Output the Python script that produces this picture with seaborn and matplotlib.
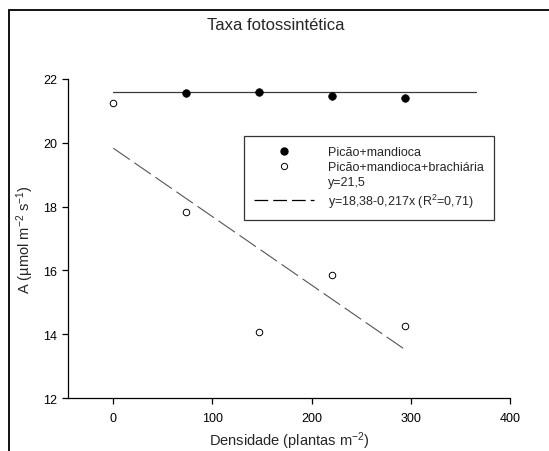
import numpy as np
import pandas as pd
import matplotlib
matplotlib.use("Agg")
import matplotlib.pyplot as plt
from matplotlib.lines import Line2D
from matplotlib.patches import Rectangle
import seaborn as sns

# data
dens = [0, 73.5, 147, 220.5, 294]
a_mandioca = [None, 21.56, 21.58, 21.48, 21.41]
a_brach = [21.24, 17.82, 14.06, 15.87, 14.27]

# fitted lines as drawn
hline_y = 21.58
hline_x = [0, 366]
fit_intercept = 19.83
fit_slope = -0.02146

legend_labels = ["Picão+mandioca", "Picão+mandioca+brachiária", "y=21,5",
                 "y=18,38-0,217x (R$^2$=0,71)"]

sns.set_style("ticks")
plt.rcParams['font.family'] = ['Liberation Sans', 'DejaVu Sans']
plt.rcParams['mathtext.fontset'] = 'custom'
plt.rcParams['mathtext.rm'] = 'Liberation Sans'
plt.rcParams['mathtext.it'] = 'Liberation Sans:italic'
plt.rcParams['mathtext.default'] = 'regular'

W, H = 549, 452
fig = plt.figure(figsize=(W / 100, H / 100), dpi=100)
ax = fig.add_axes([68 / W, 1 - 399 / H, (510 - 68) / W, (399 - 80) / H])

# outer frame (left and top edges only visible)
fig.patches.append(Rectangle((9 / W, -0.1), 1.2, 1.1 - 11 / H, transform=fig.transFigure,
                             fill=False, edgecolor='black', lw=1.3))

df1 = pd.DataFrame({"x": dens[1:], "y": a_mandioca[1:]})
df2 = pd.DataFrame({"x": dens, "y": a_brach})

hl = pd.DataFrame({"x": hline_x, "y": [hline_y, hline_y]})
sns.lineplot(data=hl, x="x", y="y", ax=ax, color="#3a3a3a", lw=0.9)

xfit = np.array([dens[0], dens[-1]])
fit = pd.DataFrame({"x": xfit, "y": fit_intercept + fit_slope * xfit})
sns.lineplot(data=fit, x="x", y="y", ax=ax, color="#555555", lw=0.8,
             linestyle=(0, (18, 5)))

sns.scatterplot(data=df1, x="x", y="y", ax=ax, color="black", s=30,
                edgecolor="black", linewidth=0.5, zorder=3)
sns.scatterplot(data=df2, x="x", y="y", ax=ax, facecolor="white", s=22,
                edgecolor="black", linewidth=0.7, zorder=3)

ax.set_xlim(-45.7, 400)
ax.set_ylim(12, 22)
ax.set_xticks([0, 100, 200, 300, 400])
ax.set_yticks([12, 14, 16, 18, 20, 22])
sns.despine(ax=ax)
for s in ["left", "bottom"]:
    ax.spines[s].set_linewidth(0.9)
    ax.spines[s].set_color("black")
ax.tick_params(axis="both", direction="out", length=4, width=0.9, colors="black",
               labelsize=9)
ax.tick_params(axis="x", pad=6)
ax.tick_params(axis="y", pad=4)

ax.set_xlabel("Densidade (plantas m$^{-2}$)", fontsize=10.5, labelpad=4)
ax.set_ylabel("A (µmol m$^{-2}$ s$^{-1}$)", fontsize=10.5, labelpad=5)
fig.text(276 / W, 1 - 25 / H, "Taxa fotossintética", ha="center", va="center", fontsize=12)

handles = [
    Line2D([], [], ls="none", marker="o", markersize=5, color="black"),
    Line2D([], [], ls="none", marker="o", markersize=4.5, markerfacecolor="white",
           markeredgecolor="black", markeredgewidth=0.7),
    Line2D([], [], ls="none"),
    Line2D([], [], color="black", lw=0.9, linestyle=(0, (11, 4))),
]
leg = ax.legend(handles, legend_labels, loc="upper left",
                bbox_to_anchor=(244 / W, 1 - 137 / H), bbox_transform=fig.transFigure,
                borderaxespad=0, fontsize=9, handlelength=4.8, handletextpad=1.1,
                labelspacing=0.25, borderpad=0.8, frameon=True, fancybox=False)
leg.get_frame().set_edgecolor("black")
leg.get_frame().set_linewidth(0.9)

fig.savefig("out.png", dpi=100)
